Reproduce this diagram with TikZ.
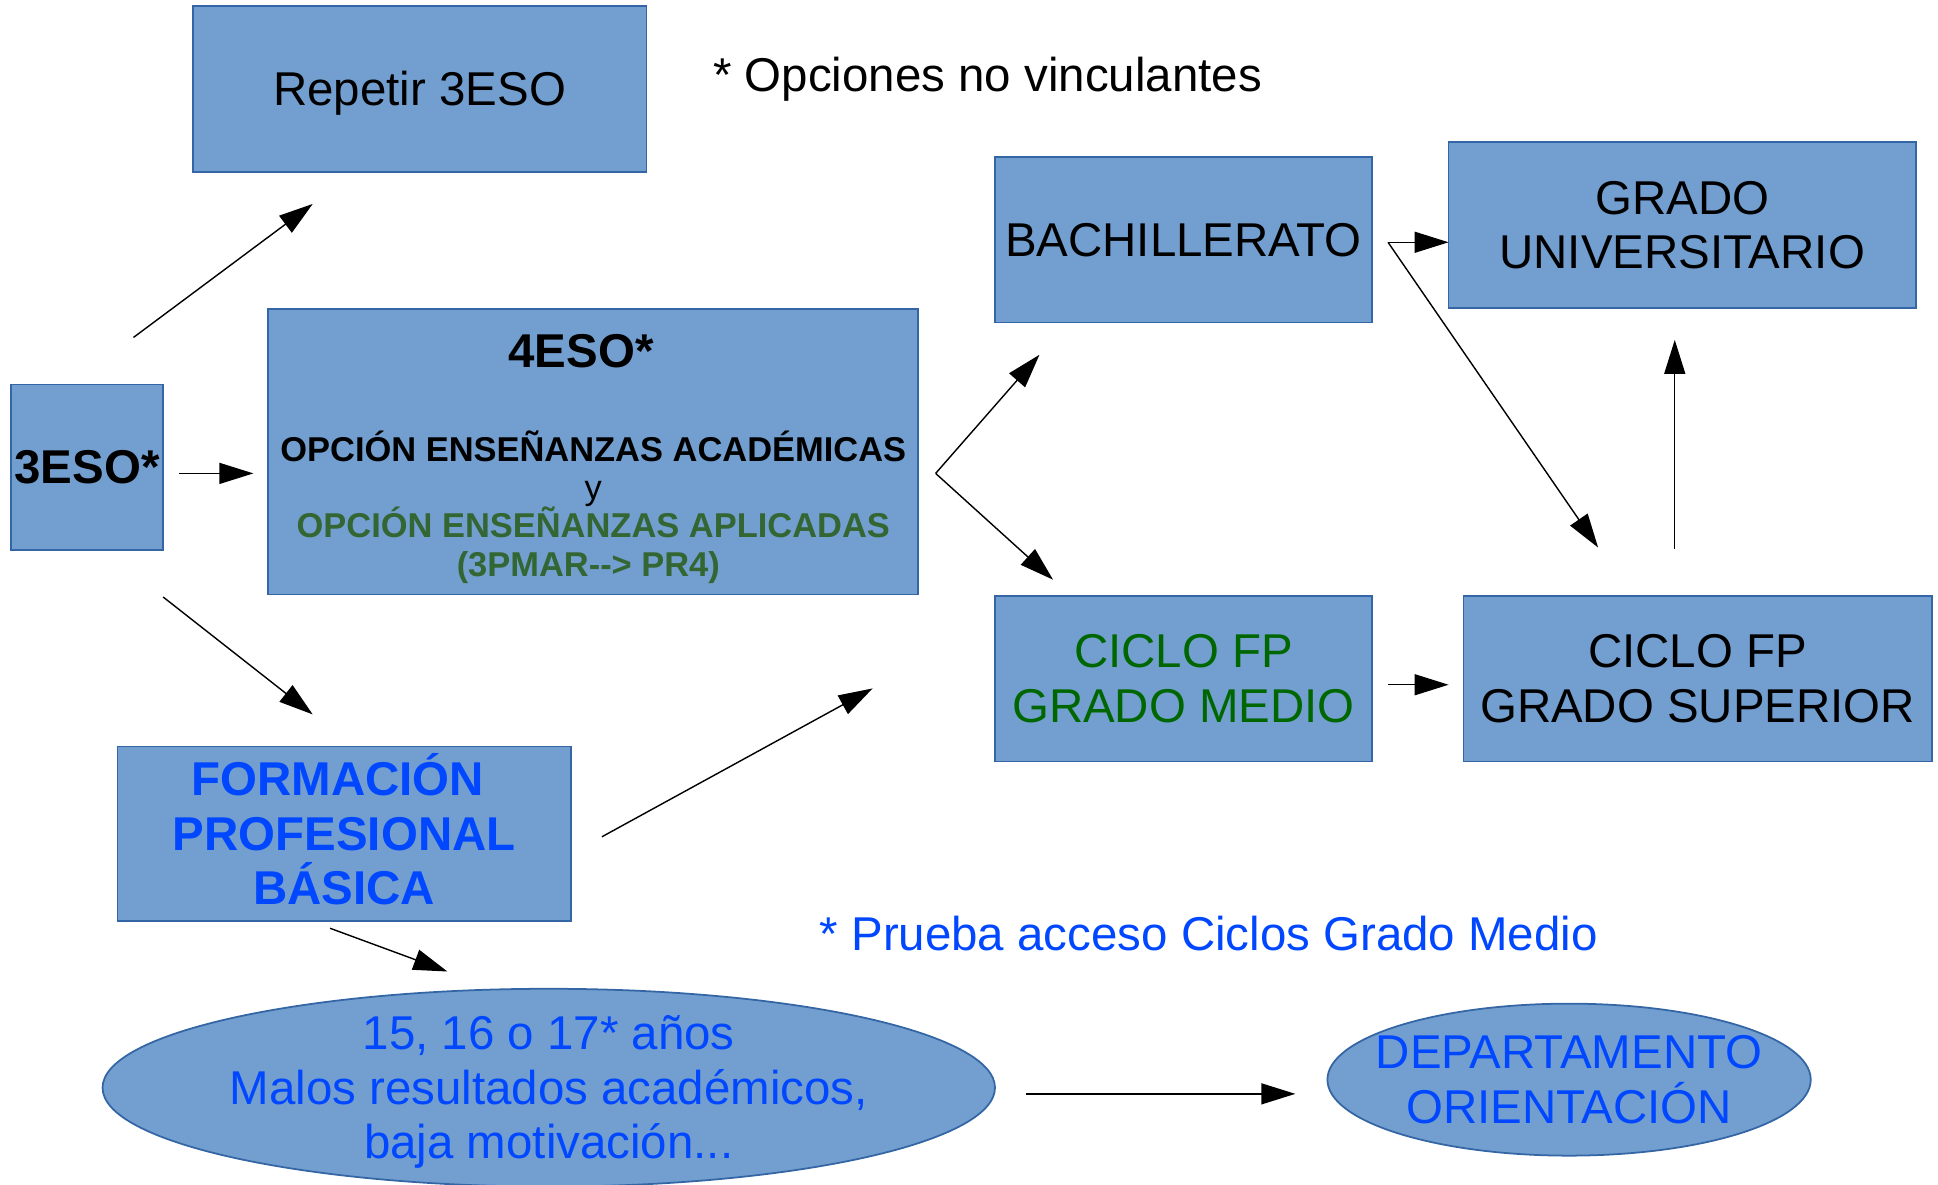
\documentclass[tikz,border=0pt]{standalone}
\usepackage{fontspec}
\setmainfont{Liberation Sans}
\usetikzlibrary{arrows.meta,shapes.geometric}
\definecolor{boxfill}{HTML}{729FCF}
\definecolor{boxline}{HTML}{3465A4}
\definecolor{dgreen}{HTML}{336633}
\definecolor{fgreen}{HTML}{006600}
\definecolor{tblue}{HTML}{0047FF}
\newcommand{\lnstrut}{\rule[-0.212em]{0pt}{1.117em}}
\begin{document}
\begin{tikzpicture}[x=0.01236cm,y=-0.01236cm,
  font=\fontsize{13.5}{15.5}\selectfont,
  box/.style={draw=boxline, line width=0.5pt, fill=boxfill, rectangle, inner sep=0pt, align=center},
  oval/.style={draw=boxline, line width=0.5pt, fill=boxfill, ellipse, inner sep=-14pt, align=center},
  conn/.style={-{Triangle[length=0.34cm,width=0.21cm]}, line width=0.4pt, black}]
\useasboundingbox (0,0) rectangle (1568,958);

% boxes
\node[box, minimum width=4.536cm, minimum height=1.656cm] (rep) at (339.5,72) {\lnstrut Repetir 3ESO};
\node[box, minimum width=1.520cm, minimum height=1.656cm, font=\fontsize{13.5}{15.5}\selectfont\bfseries] (eso3) at (70.5,378) {\lnstrut 3ESO*};
\node[box, minimum width=6.501cm, minimum height=2.855cm, font=\fontsize{9.8}{10.9}\selectfont\bfseries] (eso4) at (480,365.5)
  {{\fontsize{13.5}{10.9}\selectfont\rule{0pt}{13.6pt}4ESO*}\hspace{7pt}\null\\[15.6pt]
   OPCIÓN ENSEÑANZAS ACADÉMICAS\\
   {\mdseries y}\\
   \textcolor{dgreen}{OPCIÓN ENSEÑANZAS APLICADAS}\\
   \lnstrut\textcolor{dgreen}{(3PMAR-{}-> PR4)}\hspace{2.8pt}\null};
\node[box, minimum width=3.770cm, minimum height=1.656cm] (bach) at (957.5,194) {\lnstrut BACHILLERATO};
\node[box, minimum width=4.672cm, minimum height=1.656cm] (uni) at (1361,182) {\lnstrut GRADO\\\lnstrut UNIVERSITARIO};
\node[box, minimum width=3.770cm, minimum height=1.656cm, text=fgreen] (cfgm) at (957.5,549) {\lnstrut CICLO FP\\\lnstrut GRADO MEDIO};
\node[box, minimum width=4.684cm, minimum height=1.656cm] (cfgs) at (1373.5,549) {\lnstrut CICLO FP\\\lnstrut GRADO SUPERIOR};
\node[box, minimum width=4.536cm, minimum height=1.743cm, text=tblue, font=\fontsize{13.5}{15.5}\selectfont\bfseries] (fpb) at (278.5,674.5)
  {\lnstrut FORMACIÓN\hspace{3.75pt}\null\\\lnstrut PROFESIONAL\\\lnstrut BÁSICA};

% ellipses
\node[oval, minimum width=8.924cm, minimum height=1.978cm, text=tblue] (edad) at (444,880)
  {\lnstrut 15, 16 o 17* años\\\lnstrut Malos resultados académicos,\\\lnstrut baja motivación...};
\node[oval, minimum width=4.833cm, minimum height=1.520cm, text=tblue] (dept) at (1269.5,873.5)
  {\lnstrut DEPARTAMENTO\\\lnstrut ORIENTACIÓN};

% free texts
\node (opc) at (799,61) {\lnstrut * Opciones no vinculantes};
\node[text=tblue] (prueba) at (978,756) {\lnstrut * Prueba acceso Ciclos Grado Medio};

% connector end points
\coordinate (c1s) at (108,273);  \coordinate (c1e) at (253,165);
\coordinate (c2s) at (145,383);  \coordinate (c2e) at (205,383);
\coordinate (c3s) at (132,483);  \coordinate (c3e) at (253,578);
\coordinate (c4s) at (757,383);  \coordinate (c4e) at (841,287);
\coordinate (c5e) at (852,469);
\coordinate (c6s) at (487,677);  \coordinate (c6e) at (706,557);
\coordinate (c7s) at (1123,196); \coordinate (c7e) at (1172,196);
\coordinate (c8e) at (1293,443);
\coordinate (c9s) at (1355,444); \coordinate (c9e) at (1355,275);
\coordinate (c10s) at (1123,554); \coordinate (c10e) at (1172,554);
\coordinate (c11s) at (267,751); \coordinate (c11e) at (362,786);
\coordinate (c12s) at (830,885); \coordinate (c12e) at (1048,885);

% connectors
\draw[conn] (c1s) -- (c1e);
\draw[conn] (c2s) -- (c2e);
\draw[conn] (c3s) -- (c3e);
\draw[conn] (c4s) -- (c4e);
\draw[conn] (c4s) -- (c5e);
\draw[conn] (c6s) -- (c6e);
\draw[conn] (c7s) -- (c7e);
\draw[conn] (c7s) -- (c8e);
\draw[conn] (c9s) -- (c9e);
\draw[conn] (c10s) -- (c10e);
\draw[conn] (c11s) -- (c11e);
\draw[conn] (c12s) -- (c12e);
\end{tikzpicture}
\end{document}
